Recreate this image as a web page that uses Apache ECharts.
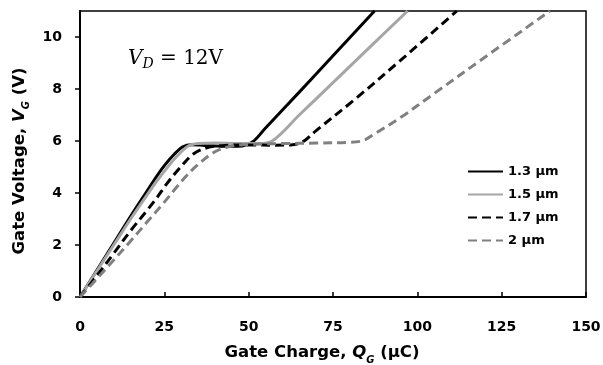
<!DOCTYPE html>
<html>
<head>
<meta charset="utf-8">
<script src="https://cdn.jsdelivr.net/npm/echarts@6/dist/echarts.min.js"></script>
<style>html,body{margin:0;padding:0;background:#fff}#c{width:603px;height:365px}</style>
</head>
<body>
<div id="c"></div>
<script>
// Gate charge (µC) and gate voltage (V)
const q13 = [0, 5, 10, 15, 19.5, 22, 25, 28, 30.5, 33, 37, 42, 47, 51, 55, 65, 75, 87.3];
const v13 = [0, 1.03, 2.07, 3.1, 4.0, 4.5, 5.05, 5.5, 5.78, 5.86, 5.83, 5.8, 5.8, 5.95, 6.5, 7.88, 9.28, 11.0];

const q15 = [0, 5, 10, 15, 20, 23, 26, 29, 32, 35, 40, 47, 53, 57, 65, 70, 80, 97.1];
const v15 = [0, 1.0, 2.0, 3.0, 3.95, 4.5, 5.0, 5.45, 5.8, 5.9, 5.92, 5.9, 5.9, 6.0, 7.0, 7.62, 8.87, 11.0];

const q17 = [0, 5, 10, 15, 20, 22.7, 25.7, 29.5, 33.6, 37.6, 42, 50, 58, 63, 66, 70, 81, 95, 111.7];
const v17 = [0, 0.82, 1.68, 2.55, 3.35, 3.8, 4.35, 4.95, 5.5, 5.74, 5.82, 5.85, 5.84, 5.86, 5.96, 6.4, 7.55, 9.1, 11.0];

const q20 = [0, 5, 10, 15, 20, 25, 28.5, 31.5, 34.6, 39.5, 44, 50, 60, 70, 80, 84, 87, 95, 104.7, 120, 139.3];
const v20 = [0, 0.7, 1.42, 2.15, 2.9, 3.65, 4.2, 4.65, 5.05, 5.55, 5.78, 5.87, 5.9, 5.92, 5.95, 6.02, 6.25, 6.9, 7.8, 9.22, 11.0];

const seriesNames = ['1.3 µm', '1.5 µm', '1.7 µm', '2 µm'];
const xTicks = [0, 25, 50, 75, 100, 125, 150];
const yTicks = [0, 2, 4, 6, 8, 10];

const zip = (a, b) => a.map((x, i) => [x, b[i]]);
const FONT = 'DejaVu Sans';
const SERIF = 'DejaVu Serif';

const chart = echarts.init(document.getElementById('c'), null, {renderer: 'canvas'});

const mk = (name, qs, vs, color, dashed) => ({
  name: name,
  type: 'line',
  data: zip(qs, vs),
  symbol: 'none',
  smooth: 0.35,
  lineStyle: {color: color, width: 3, type: dashed ? [9, 5] : 'solid', cap: 'butt'},
  itemStyle: {color: color},
  z: 3
});

const titleRich = {
  a: {fontFamily: FONT, fontWeight: 'bold', fontSize: 16.5, color: '#000', lineHeight: 24},
  i: {fontFamily: FONT, fontWeight: 'bold', fontStyle: 'italic', fontSize: 16.5, color: '#000', lineHeight: 24},
  s: {fontFamily: FONT, fontWeight: 'bold', fontStyle: 'italic', fontSize: 10, color: '#000', lineHeight: 12, verticalAlign: 'bottom'}
};

chart.setOption({
  animation: false,
  backgroundColor: '#fff',
  grid: {left: 80, right: 17, top: 11, bottom: 68, show: true, borderColor: '#000', borderWidth: 1.5,
         containLabel: false, outerBoundsMode: 'none'},
  legend: {
    data: seriesNames,
    orient: 'vertical',
    left: 467,
    top: 165,
    padding: 0,
    itemWidth: 35,
    itemHeight: 14,
    itemGap: 10,
    itemTextGap: 5,
    itemStyle: {opacity: 0},
    textStyle: {fontFamily: FONT, fontWeight: 'bold', fontSize: 13, color: '#000'}
  },
  xAxis: {
    type: 'value',
    min: 0, max: 150, interval: 25,
    axisLine: {lineStyle: {color: '#000', width: 2}},
    axisTick: {inside: true, length: 5, lineStyle: {color: '#000', width: 1.5}, customValues: xTicks},
    axisLabel: {margin: 23, color: '#000', fontFamily: FONT, fontWeight: 'bold', fontSize: 14, customValues: xTicks},
    splitLine: {show: false},
    name: '{a|Gate Charge, }{i|Q}{s|G}{a| (µC)}',
    nameLocation: 'middle',
    nameGap: 44,
    nameTextStyle: {padding: [0, 22, 0, 0], rich: titleRich}
  },
  yAxis: {
    type: 'value',
    min: 0, max: 11, interval: 2,
    axisLine: {lineStyle: {color: '#000', width: 2}},
    axisTick: {inside: false, length: 5, lineStyle: {color: '#000', width: 1.5}, customValues: yTicks},
    axisLabel: {margin: 18, color: '#000', fontFamily: FONT, fontWeight: 'bold', fontSize: 14, customValues: yTicks},
    splitLine: {show: false},
    name: '{a|Gate Voltage, }{i|V}{s|G}{a| (V)}',
    nameLocation: 'middle',
    nameGap: 48,
    nameRotate: 90,
    nameTextStyle: {padding: [0, 14, 0, 0], rich: titleRich}
  },
  graphic: [{
    type: 'text',
    left: 128,
    top: 49,
    style: {
      text: '{i|V}{s|D}{n| = 12V}',
      rich: {
        i: {fontFamily: SERIF, fontStyle: 'italic', fontSize: 20, fill: '#000', lineHeight: 24},
        s: {fontFamily: SERIF, fontStyle: 'italic', fontSize: 14, fill: '#000', lineHeight: 13, verticalAlign: 'bottom'},
        n: {fontFamily: SERIF, fontSize: 20, fill: '#000', lineHeight: 24}
      }
    }
  }],
  series: [
    mk(seriesNames[0], q13, v13, '#000000', false),
    mk(seriesNames[1], q15, v15, '#a6a6a6', false),
    mk(seriesNames[2], q17, v17, '#000000', true),
    mk(seriesNames[3], q20, v20, '#808080', true)
  ]
});
</script>
</body>
</html>
